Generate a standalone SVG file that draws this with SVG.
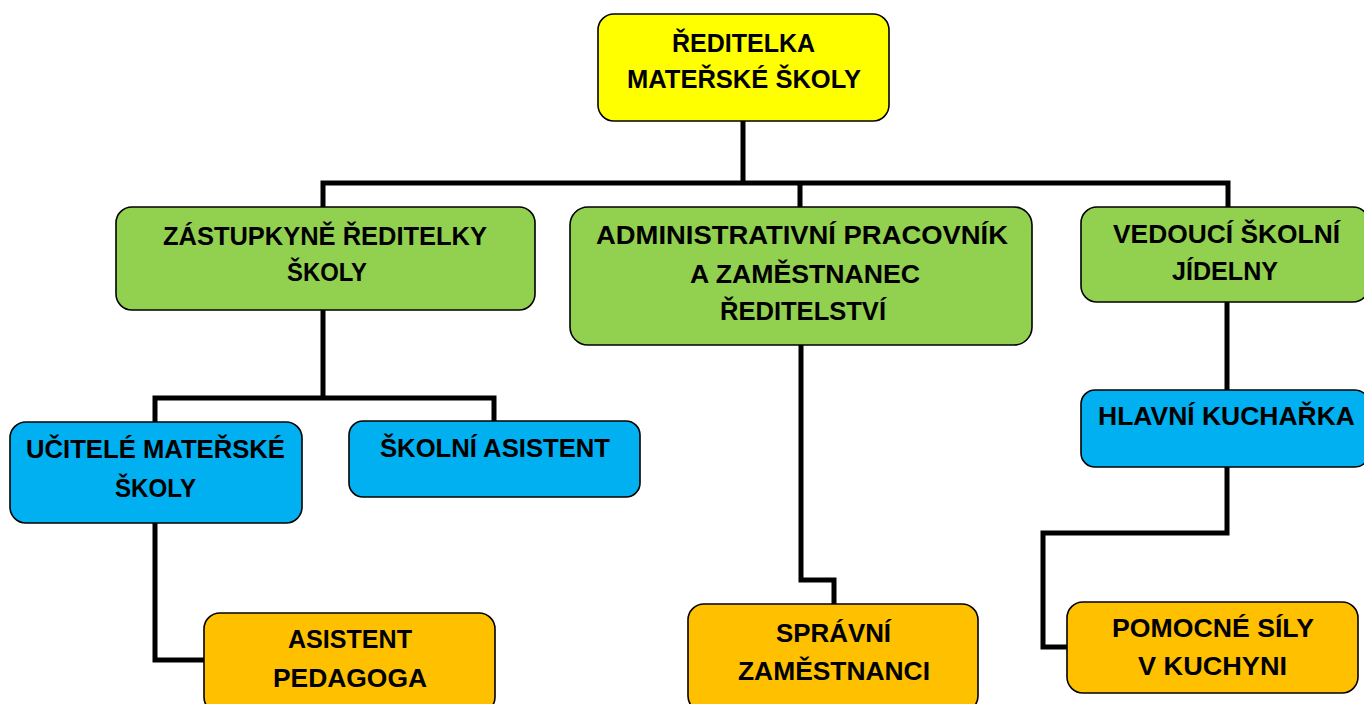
<svg xmlns="http://www.w3.org/2000/svg" width="1364" height="704" viewBox="0 0 1364 704">
<style>
.box{stroke:#000;stroke-width:1.6}
.y{fill:#FFFF00}.g{fill:#92D050}.b{fill:#00B0F0}.o{fill:#FFC000}
text{font-family:"Liberation Sans",Arial,sans-serif;font-weight:bold;font-size:26px;fill:#000;text-anchor:middle}
.conn path{fill:none;stroke:#000;stroke-width:5;stroke-linejoin:miter;stroke-linecap:square}
</style>
<rect width="1364" height="704" fill="#fff"/>
<g class="conn" id="connectors">
<path d="M743,122 V183 M323,183 H1228 M323,183 V207 M800,183 V207 M1228,183 V207"/>
<path d="M323,311 V398 M155,398 H494 M155,398 V421 M494,398 V421"/>
<path d="M1227,303 V390"/>
<path d="M1227,467 V533 H1043 V647 H1067"/>
<path d="M155,523 V660 H204"/>
<path d="M801,345 V580 H834 V604"/>
</g>
<g id="n_reditelka">
<rect class="box y" x="598" y="14" width="291" height="107" rx="16"/>
<text x="743.5" y="52" textLength="143" lengthAdjust="spacingAndGlyphs">ŘEDITELKA</text>
<text x="744" y="88" textLength="234" lengthAdjust="spacingAndGlyphs">MATEŘSKÉ ŠKOLY</text>
</g>
<g id="n_zastupkyne">
<rect class="box g" x="116" y="207" width="419" height="103" rx="16"/>
<text x="325" y="245" textLength="324" lengthAdjust="spacingAndGlyphs">ZÁSTUPKYNĚ ŘEDITELKY</text>
<text x="327" y="281" textLength="80" lengthAdjust="spacingAndGlyphs">ŠKOLY</text>
</g>
<g id="n_admin">
<rect class="box g" x="570" y="207" width="462" height="138" rx="18"/>
<text x="802" y="244" textLength="412" lengthAdjust="spacingAndGlyphs">ADMINISTRATIVNÍ PRACOVNÍK</text>
<text x="805" y="283" textLength="230" lengthAdjust="spacingAndGlyphs">A ZAMĚSTNANEC</text>
<text x="803" y="320" textLength="166" lengthAdjust="spacingAndGlyphs">ŘEDITELSTVÍ</text>
</g>
<g id="n_vedouci">
<rect class="box g" x="1081" y="207" width="288" height="95" rx="16"/>
<text x="1226.5" y="243" textLength="227" lengthAdjust="spacingAndGlyphs">VEDOUCÍ ŠKOLNÍ</text>
<text x="1225" y="280" textLength="106" lengthAdjust="spacingAndGlyphs">JÍDELNY</text>
</g>
<g id="n_kucharka">
<rect class="box b" x="1081" y="390" width="288" height="77" rx="14"/>
<text x="1226.5" y="425" textLength="257" lengthAdjust="spacingAndGlyphs">HLAVNÍ KUCHAŘKA</text>
</g>
<g id="n_ucitele">
<rect class="box b" x="10" y="422" width="292" height="101" rx="16"/>
<text x="155.5" y="458" textLength="259" lengthAdjust="spacingAndGlyphs">UČITELÉ MATEŘSKÉ</text>
<text x="155.5" y="497" textLength="81" lengthAdjust="spacingAndGlyphs">ŠKOLY</text>
</g>
<g id="n_asistent">
<rect class="box b" x="349" y="421" width="291" height="76" rx="14"/>
<text x="495" y="457" textLength="230" lengthAdjust="spacingAndGlyphs">ŠKOLNÍ ASISTENT</text>
</g>
<g id="n_asistent_ped">
<rect class="box o" x="204" y="613" width="291" height="100" rx="16"/>
<text x="350" y="648" textLength="124" lengthAdjust="spacingAndGlyphs">ASISTENT</text>
<text x="350" y="687" textLength="154" lengthAdjust="spacingAndGlyphs">PEDAGOGA</text>
</g>
<g id="n_spravni">
<rect class="box o" x="688" y="604" width="290" height="108" rx="16"/>
<text x="833.5" y="642" textLength="115" lengthAdjust="spacingAndGlyphs">SPRÁVNÍ</text>
<text x="834" y="680" textLength="192" lengthAdjust="spacingAndGlyphs">ZAMĚSTNANCI</text>
</g>
<g id="n_pomocne">
<rect class="box o" x="1067" y="602" width="291" height="91" rx="16"/>
<text x="1213" y="637" textLength="202" lengthAdjust="spacingAndGlyphs">POMOCNÉ SÍLY</text>
<text x="1212.5" y="675" textLength="149" lengthAdjust="spacingAndGlyphs">V KUCHYNI</text>
</g>
</svg>
